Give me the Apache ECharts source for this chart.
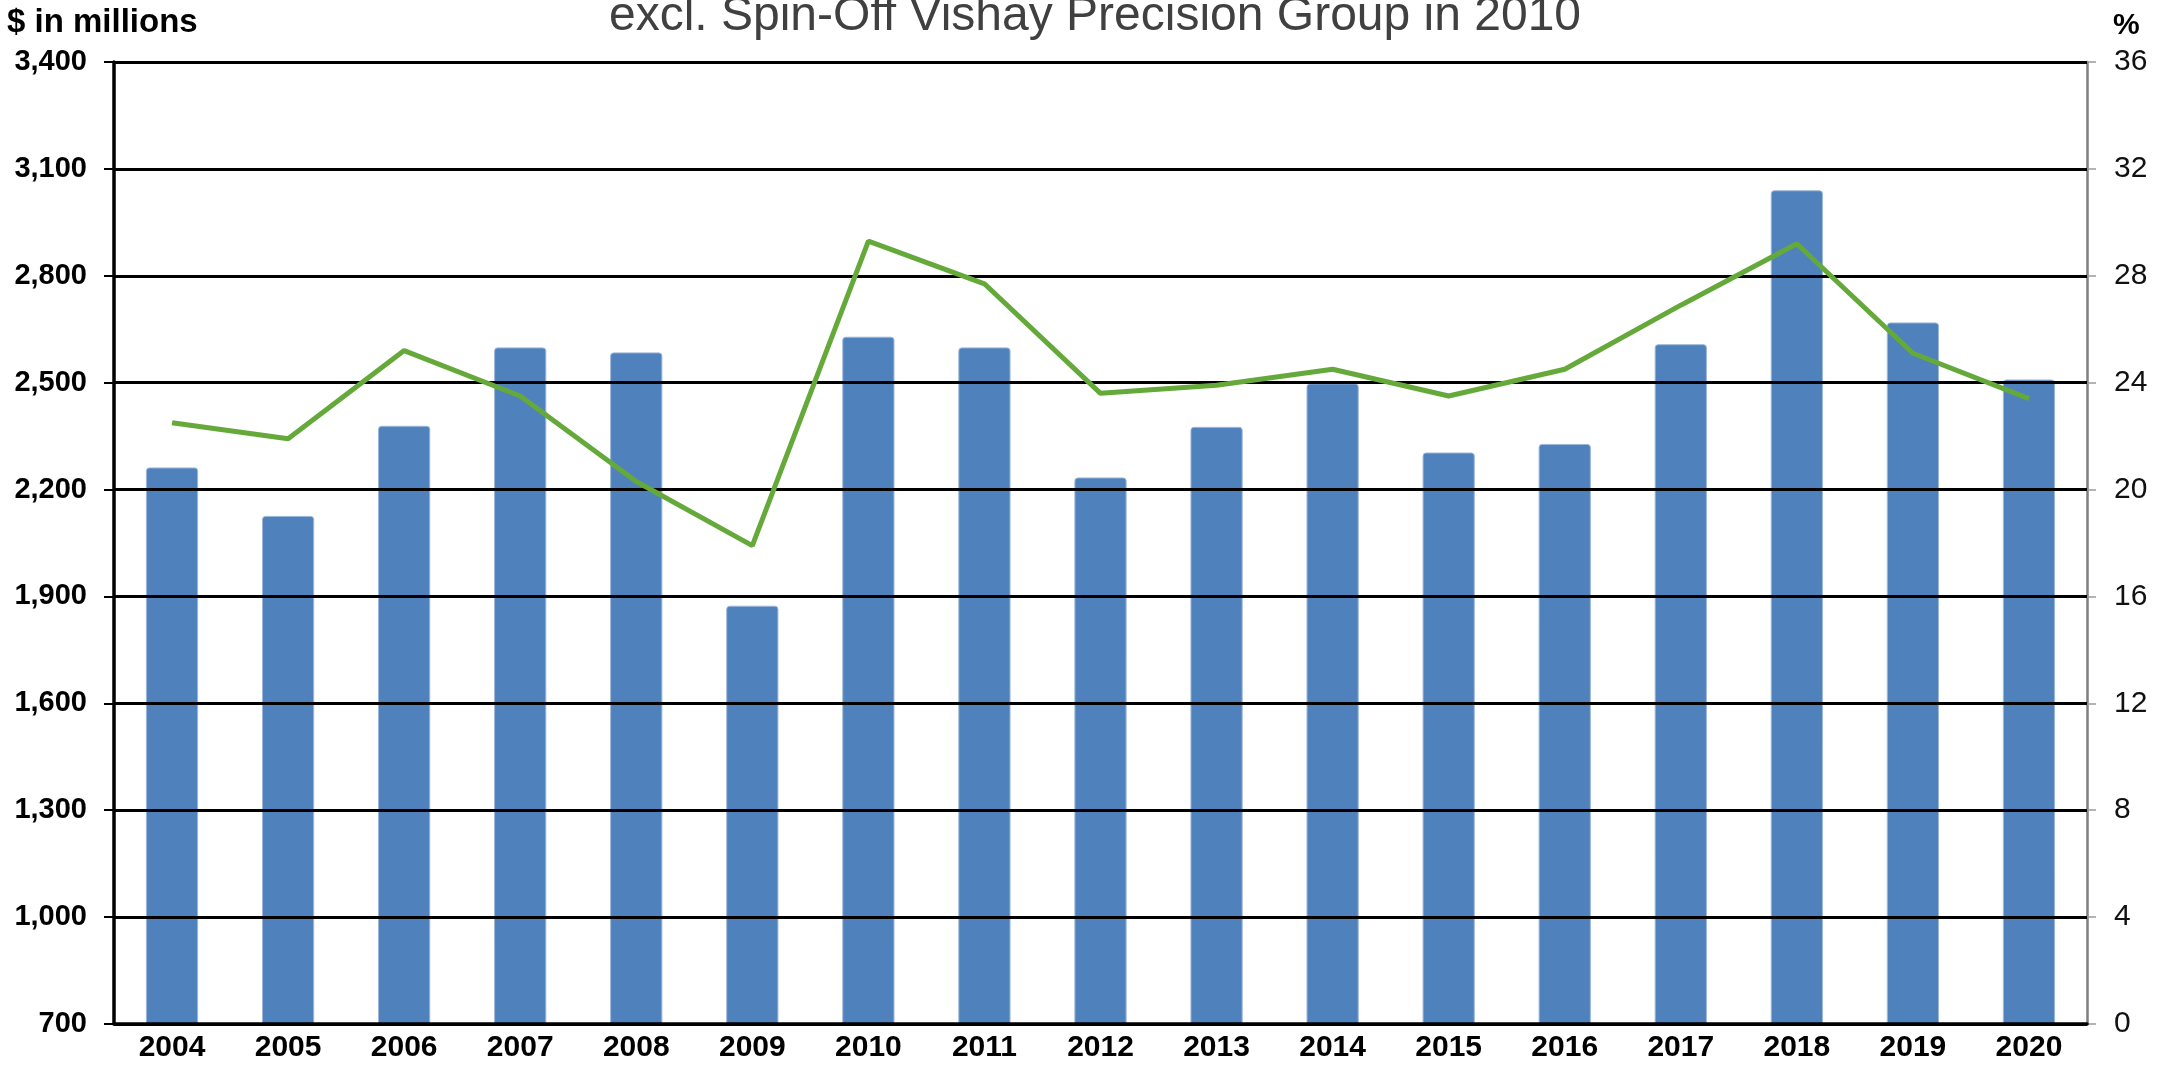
<!DOCTYPE html>
<html>
<head>
<meta charset="utf-8">
<script src="https://cdn.jsdelivr.net/npm/echarts@6/dist/echarts.min.js"></script>
<style>
html,body{margin:0;padding:0;background:#fff;}
#chart{width:2164px;height:1066px;}
</style>
</head>
<body>
<div id="chart"></div>
<script>
const years = ['2004','2005','2006','2007','2008','2009','2010','2011','2012','2013','2014','2015','2016','2017','2018','2019','2020'];
const revenue = [2262, 2126, 2379, 2599, 2585, 1874, 2629, 2599, 2234, 2376, 2498, 2304, 2328, 2608, 3040, 2669, 2509];
const percent = [22.5, 21.9, 25.2, 23.5, 20.3, 17.9, 29.3, 27.7, 23.6, 23.9, 24.5, 23.5, 24.5, 26.9, 29.2, 25.1, 23.4];
const titleText = 'excl. Spin-Off Vishay Precision Group in 2010';
const leftUnit = '$ in millions';
const rightUnit = '%';

const FONT = '"Liberation Sans", Arial, sans-serif';
const chart = echarts.init(document.getElementById('chart'), null, {renderer: 'canvas'});

function fmt(v) {
  return String(v).replace(/\B(?=(\d{3})+(?!\d))/g, ',');
}

chart.setOption({
  animation: false,
  backgroundColor: '#ffffff',
  grid: {left: 114, right: 77, top: 62, bottom: 42, containLabel: false},
  xAxis: {
    type: 'category',
    data: years,
    axisLine: {show: true, lineStyle: {color: '#000', width: 3.5}},
    axisTick: {show: false},
    axisLabel: {color: '#000', fontWeight: 'bold', fontSize: 30, fontFamily: FONT, margin: 9, interval: 0},
    splitLine: {show: false},
    z: 5
  },
  yAxis: [
    {
      type: 'value',
      position: 'left',
      min: 700, max: 3400, interval: 300,
      axisLine: {show: true, lineStyle: {color: '#000', width: 3.5}},
      axisTick: {show: true, length: 10, lineStyle: {color: '#000', width: 2}},
      axisLabel: {color: '#000', fontWeight: 'bold', fontSize: 29, fontFamily: FONT, margin: 27, formatter: fmt},
      splitLine: {show: true, lineStyle: {color: '#000', width: 3}},
      z: 4
    },
    {
      type: 'value',
      position: 'right',
      min: 0, max: 36, interval: 4,
      axisLine: {show: true, lineStyle: {color: '#7f7f7f', width: 2.5}},
      axisTick: {show: true, length: 9, lineStyle: {color: '#9a9a9a', width: 1.5}},
      axisLabel: {color: '#111', fontSize: 30, fontFamily: FONT, margin: 27},
      splitLine: {show: false}
    }
  ],
  series: [
    {
      type: 'bar',
      yAxisIndex: 0,
      data: revenue,
      barWidth: '45%',
      itemStyle: {color: '#4F81BD', borderColor: '#9db7d9', borderWidth: 1, borderRadius: [3, 3, 0, 0]},
      z: 2
    },
    {
      type: 'line',
      yAxisIndex: 1,
      data: percent,
      symbol: 'none',
      lineStyle: {color: '#66A93B', width: 5},
      z: 6
    }
  ],
  graphic: [
    {type: 'text', x: 1095, y: 17, style: {text: titleText, fontSize: 48, fontFamily: FONT, fill: '#404040', align: 'center', verticalAlign: 'middle'}},
    {type: 'text', x: 7, y: 23, style: {text: leftUnit, fontSize: 33, fontWeight: 'bold', fontFamily: FONT, fill: '#000', align: 'left', verticalAlign: 'middle'}},
    {type: 'text', x: 2113, y: 26, style: {text: rightUnit, fontSize: 30, fontWeight: 'bold', fontFamily: FONT, fill: '#000', align: 'left', verticalAlign: 'middle'}}
  ]
});
</script>
</body>
</html>
